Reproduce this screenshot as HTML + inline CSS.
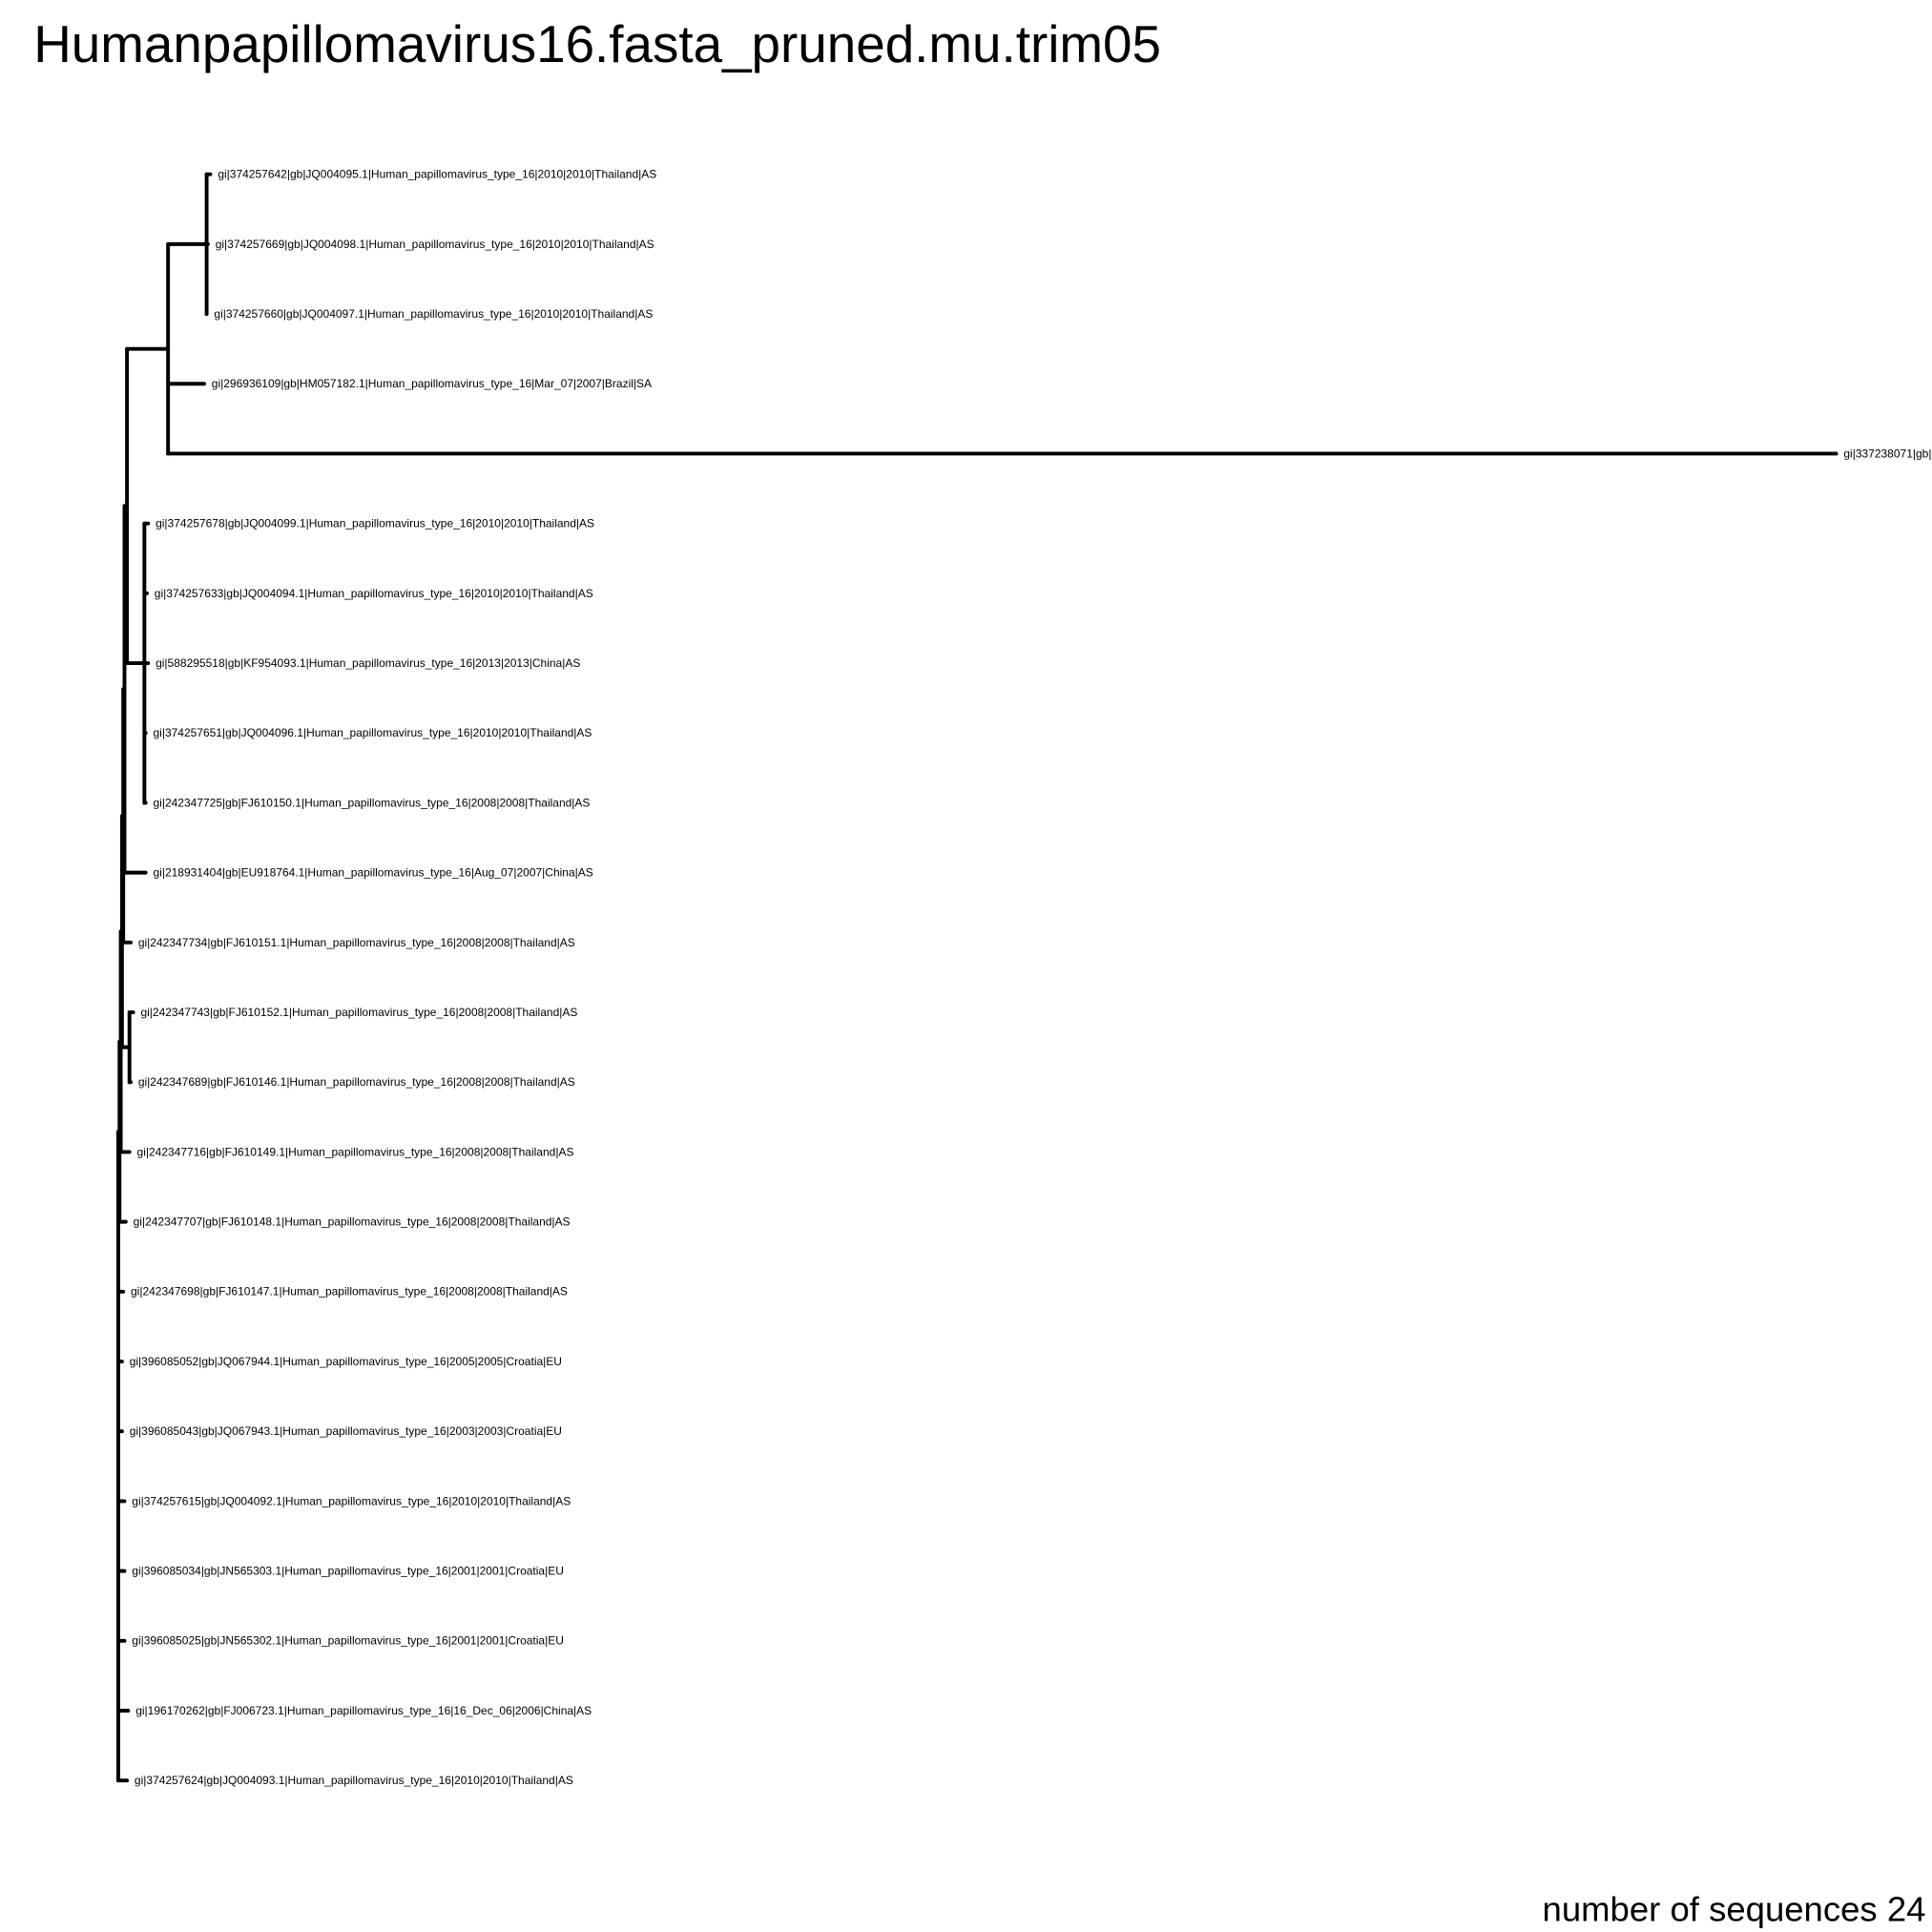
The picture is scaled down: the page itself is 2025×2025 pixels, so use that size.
<!DOCTYPE html>
<html><head><meta charset="utf-8">
<style>
html,body{margin:0;padding:0;background:#fff;}
svg{display:block;}
text{font-family:"Liberation Sans",Arial,sans-serif;fill:#000;}
</style></head>
<body>
<svg id="chart" width="2025" height="2025" viewBox="0 0 1552 1552" xmlns="http://www.w3.org/2000/svg">
<rect width="1552" height="1552" fill="#fff"/>
<text x="27" y="50" font-size="42">Humanpapillomavirus16.fasta_pruned.mu.trim05</text>
<text x="1547" y="1543" font-size="28" text-anchor="end">number of sequences 24</text>
<g id="tree"></g>
</svg>
<script>
const tipLabels = [
"gi|374257642|gb|JQ004095.1|Human_papillomavirus_type_16|2010|2010|Thailand|AS",
"gi|374257669|gb|JQ004098.1|Human_papillomavirus_type_16|2010|2010|Thailand|AS",
"gi|374257660|gb|JQ004097.1|Human_papillomavirus_type_16|2010|2010|Thailand|AS",
"gi|296936109|gb|HM057182.1|Human_papillomavirus_type_16|Mar_07|2007|Brazil|SA",
"gi|337238071|gb|",
"gi|374257678|gb|JQ004099.1|Human_papillomavirus_type_16|2010|2010|Thailand|AS",
"gi|374257633|gb|JQ004094.1|Human_papillomavirus_type_16|2010|2010|Thailand|AS",
"gi|588295518|gb|KF954093.1|Human_papillomavirus_type_16|2013|2013|China|AS",
"gi|374257651|gb|JQ004096.1|Human_papillomavirus_type_16|2010|2010|Thailand|AS",
"gi|242347725|gb|FJ610150.1|Human_papillomavirus_type_16|2008|2008|Thailand|AS",
"gi|218931404|gb|EU918764.1|Human_papillomavirus_type_16|Aug_07|2007|China|AS",
"gi|242347734|gb|FJ610151.1|Human_papillomavirus_type_16|2008|2008|Thailand|AS",
"gi|242347743|gb|FJ610152.1|Human_papillomavirus_type_16|2008|2008|Thailand|AS",
"gi|242347689|gb|FJ610146.1|Human_papillomavirus_type_16|2008|2008|Thailand|AS",
"gi|242347716|gb|FJ610149.1|Human_papillomavirus_type_16|2008|2008|Thailand|AS",
"gi|242347707|gb|FJ610148.1|Human_papillomavirus_type_16|2008|2008|Thailand|AS",
"gi|242347698|gb|FJ610147.1|Human_papillomavirus_type_16|2008|2008|Thailand|AS",
"gi|396085052|gb|JQ067944.1|Human_papillomavirus_type_16|2005|2005|Croatia|EU",
"gi|396085043|gb|JQ067943.1|Human_papillomavirus_type_16|2003|2003|Croatia|EU",
"gi|374257615|gb|JQ004092.1|Human_papillomavirus_type_16|2010|2010|Thailand|AS",
"gi|396085034|gb|JN565303.1|Human_papillomavirus_type_16|2001|2001|Croatia|EU",
"gi|396085025|gb|JN565302.1|Human_papillomavirus_type_16|2001|2001|Croatia|EU",
"gi|196170262|gb|FJ006723.1|Human_papillomavirus_type_16|16_Dec_06|2006|China|AS",
"gi|374257624|gb|JQ004093.1|Human_papillomavirus_type_16|2010|2010|Thailand|AS"
];
// tip branch lengths (index = tip order)
const tipLengths = [3,1,0,29,1340,3,2,3,1,1,17,6,3,1,7,5,4,3,3,5,5,5,8,7];
// internal node branch lengths
const nodeLengths = {A:1,B:1,C:1,D:1,E:1,F:2,G:33,H:31,I:14,J:6};
// topology (t = tip index, n = internal node name)
const topology = {n:"root",c:[
 {n:"A",c:[
  {n:"B",c:[
   {n:"C",c:[
    {n:"D",c:[
     {n:"E",c:[
      {n:"F",c:[
       {n:"G",c:[{n:"H",c:[{t:0},{t:1},{t:2}]},{t:3},{t:4}]},
       {n:"I",c:[{t:5},{t:6},{t:7},{t:8},{t:9}]}
      ]},
      {t:10}
     ]},
     {t:11}
    ]},
    {n:"J",c:[{t:12},{t:13}]}
   ]},
   {t:14}
  ]},
  {t:15}
 ]},
 {t:16},{t:17},{t:18},{t:19},{t:20},{t:21},{t:22},{t:23}
]};

const xScale = d => 95 + d;
const yScale = i => 140 + i*56.1;
const NS = "http://www.w3.org/2000/svg";
const g = document.getElementById("tree");
function line(x1,y1,x2,y2,name){
  const l = document.createElementNS(NS,"line");
  l.setAttribute("x1",x1);l.setAttribute("y1",y1);l.setAttribute("x2",x2);l.setAttribute("y2",y2);
  l.setAttribute("stroke","#000");l.setAttribute("stroke-width","3");l.setAttribute("stroke-linecap","round");
  
  
  g.appendChild(l);
}
function layout(node, parentDepth){
  if (node.t !== undefined){
    const d = parentDepth + tipLengths[node.t];
    const y = yScale(node.t);
    line(xScale(parentDepth), y, xScale(d), y, "tip-branch-"+node.t);
    const tx = document.createElementNS(NS,"text");
    tx.setAttribute("x", xScale(d)+6);
    tx.setAttribute("y", y+3);
    tx.setAttribute("font-size","9.2");
    tx.textContent = tipLabels[node.t];
    
    
    g.appendChild(tx);
    return y;
  }
  const len = node.n==="root" ? 0 : nodeLengths[node.n];
  const d = parentDepth + len;
  const ys = node.c.map(ch => layout(ch, d));
  const y0 = ys[0], y1 = ys[ys.length-1];
  line(xScale(d), y0, xScale(d), y1, "node-vertical-"+node.n);
  const y = (y0+y1)/2;
  if (node.n!=="root") line(xScale(parentDepth), y, xScale(d), y, "node-branch-"+node.n);
  return y;
}
layout(topology, 0);
</script>
</body></html>
